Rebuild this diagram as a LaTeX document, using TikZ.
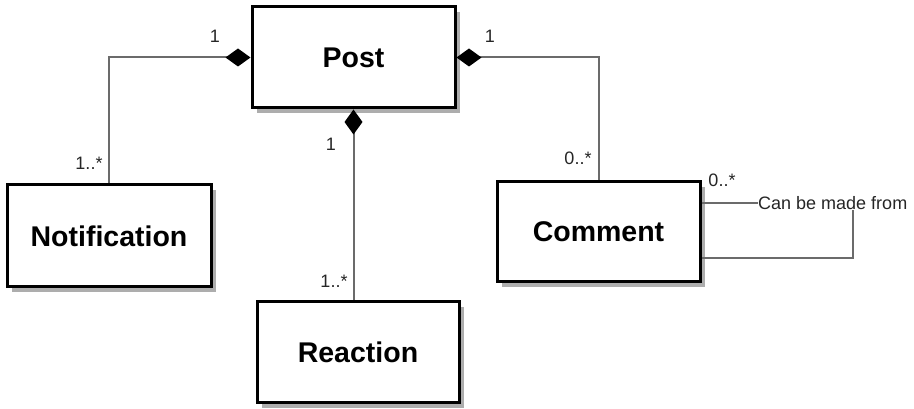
\documentclass[tikz,border=0pt]{standalone}
\usepackage{fontspec}
\setmainfont{Liberation Sans}
\usetikzlibrary{arrows.meta,shadows}
\begin{document}
\begin{tikzpicture}[x=1pt,y=1pt,
  classbox/.style={draw=black, line width=3pt, fill=white, minimum width=203pt,
    minimum height=101pt, inner sep=0pt,
    general shadow={fill=black!32, shadow xshift=5pt, shadow yshift=-5pt},
    font=\fontsize{28.5}{32}\selectfont\bfseries},
  assoc/.style={draw=black!58, line width=2pt},
  comp/.style={assoc, {Diamond[length=25pt,width=18pt,black]}-},
  mult/.style={inner sep=0pt, font=\fontsize{18}{21}\selectfont, text=black!85}]
  \useasboundingbox (0,0) rectangle (914,409);

  % classes
  \node[classbox] (post) at (353.5,351.5) {Post};
  \node[classbox, minimum width=204pt, minimum height=102pt] (notif) at (109,173) {Notification};
  \node[classbox, minimum height=100pt] (comment) at (598.5,177) {Comment};
  \node[classbox, minimum width=202pt] (reaction) at (358,56.5) {Reaction};

  % composition: Post owns Notification, Comment, Reaction
  \draw[comp] (post.west) -| (notif.north);
  \draw[comp] (post.east) -| (comment.north);
  \draw[comp] (post.south) -- (post.south |- reaction.north);

  % self association of Comment
  \node[mult, anchor=west] (lbl) at (758,206) {Can be made from};
  \coordinate (loopA) at (comment.east |- lbl.west);
  \coordinate (loopB) at (853,151);
  \coordinate (loopC) at (comment.east |- loopB);
  \draw[assoc] (loopA) -- (lbl.west);
  \draw[assoc] (lbl.south -| loopB) -- (loopB) -- (loopC);

  % multiplicities
  \node[mult] (m1) at (215,373) {1};
  \node[mult] (m2) at (490,373) {1};
  \node[mult] (m3) at (331,265) {1};
  \node[mult] (m4) at (89,246) {1..*};
  \node[mult] (m5) at (334,128) {1..*};
  \node[mult] (m6) at (578,251) {0..*};
  \node[mult] (m7) at (722,229) {0..*};
\end{tikzpicture}
\end{document}
